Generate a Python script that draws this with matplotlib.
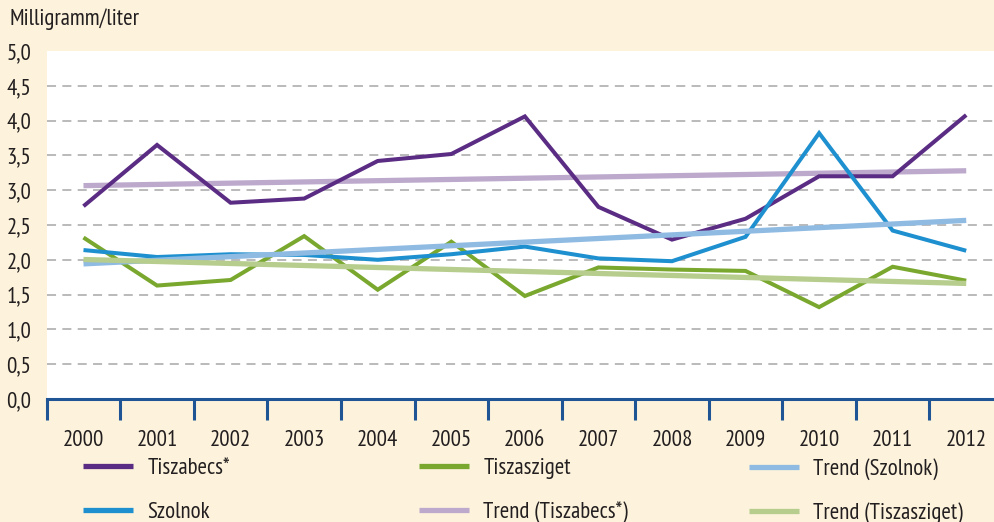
import numpy as np
import matplotlib
matplotlib.use("Agg")
import matplotlib.pyplot as plt
from matplotlib.ticker import FixedLocator, FuncFormatter

plt.rcParams["font.family"] = ["PT Sans Narrow", "Fira Sans Condensed", "DejaVu Sans"]

years = ["2000", "2001", "2002", "2003", "2004", "2005", "2006",
         "2007", "2008", "2009", "2010", "2011", "2012"]
tiszabecs = [2.77, 3.65, 2.82, 2.88, 3.42, 3.52, 4.06, 2.76, 2.29, 2.59, 3.20, 3.20, 4.08]
szolnok = [2.14, 2.04, 2.08, 2.07, 2.00, 2.08, 2.19, 2.02, 1.98, 2.33, 3.82, 2.42, 2.13]
tiszasziget = [2.32, 1.63, 1.71, 2.34, 1.57, 2.26, 1.48, 1.89, 1.86, 1.84, 1.32, 1.90, 1.70]
y_ticks = [0.0, 0.5, 1.0, 1.5, 2.0, 2.5, 3.0, 3.5, 4.0, 4.5, 5.0]
y_label = "Milligramm/liter"

C_TB = "#5b2c83"
C_SZ = "#1e90cf"
C_TS = "#7aa82f"
C_TB_T = "#bca9cc"
C_SZ_T = "#8fbbe3"
C_TS_T = "#b6cd8d"
BG = "#fdf3dc"
AX = "#1f5595"
TXT = "#231f20"
FS = 16.5

W, H = 995, 522
fig = plt.figure(figsize=(W / 100, H / 100), dpi=100, facecolor=BG)
left, right, top, bottom = 46.7, 1003, 51, 399
ax = fig.add_axes([left / W, 1 - bottom / H, (right - left) / W, (bottom - top) / H])
ax.set_facecolor("white")

x = np.arange(len(years))


def trend(vals):
    k, b = np.polyfit(x, vals, 1)
    return k * x + b


lw = 2.9
tlw = 3.8
l_tbt, = ax.plot(x, trend(tiszabecs), color=C_TB_T, lw=tlw, solid_capstyle="butt", zorder=2)
l_tb, = ax.plot(x, tiszabecs, color=C_TB, lw=lw, solid_joinstyle="miter", solid_capstyle="butt", zorder=3)
l_ts, = ax.plot(x, tiszasziget, color=C_TS, lw=lw, solid_joinstyle="miter", solid_capstyle="butt", zorder=3)
l_sz, = ax.plot(x, szolnok, color=C_SZ, lw=lw, solid_joinstyle="miter", solid_capstyle="butt", zorder=3)
l_szt, = ax.plot(x, trend(szolnok), color=C_SZ_T, lw=tlw, solid_capstyle="butt", zorder=4)
l_tst, = ax.plot(x, trend(tiszasziget), color=C_TS_T, lw=tlw, solid_capstyle="butt", zorder=4)

ax.set_xlim(-0.5, len(years) - 0.5)
ax.set_ylim(0, 5)

for v in y_ticks[1:-1]:
    ax.axhline(v, color="#b4b4b4", lw=1.3, dashes=(5, 3.5), zorder=1)

for s in ["top", "right", "left"]:
    ax.spines[s].set_visible(False)
ax.spines["bottom"].set_color(AX)
ax.spines["bottom"].set_linewidth(2.2)
ax.spines["bottom"].set_zorder(5)

ax.set_xticks(x)
ax.set_xticklabels(years)
ax.xaxis.set_minor_locator(FixedLocator(np.arange(-0.5, len(years), 1.0)))
ax.tick_params(axis="x", which="major", length=0, pad=22, labelsize=FS, labelcolor=TXT)
ax.tick_params(axis="x", which="minor", length=15, width=2.2, color=AX, direction="out")

ax.set_yticks(y_ticks)
ax.yaxis.set_major_formatter(FuncFormatter(lambda v, p: f"{v:.1f}".replace(".", ",")))
ax.tick_params(axis="y", length=0, pad=11, labelsize=FS, labelcolor=TXT)

fig.text(10 / W, 1 - 19 / H, y_label, fontsize=FS, color=TXT, va="center", ha="left")

groups = [
    ([l_tb, l_sz], ["Tiszabecs*", "Szolnok"], 83),
    ([l_ts, l_tbt], ["Tiszasziget", "Trend (Tiszabecs*)"], 419),
    ([l_szt, l_tst], ["Trend (Szolnok)", "Trend (Tiszasziget)"], 749),
]
for handles, labels, xpx in groups:
    leg = fig.legend(handles, labels, loc="upper left",
                     bbox_to_anchor=(xpx / W, 1 - 458 / H), frameon=False,
                     fontsize=FS, handlelength=2.2, handletextpad=0.6,
                     labelspacing=0.98, borderpad=0, borderaxespad=0,
                     labelcolor=TXT)
    for lh in leg.get_lines():
        lh.set_linewidth(3.8)

fig.savefig("out.png", dpi=100, facecolor=BG)
